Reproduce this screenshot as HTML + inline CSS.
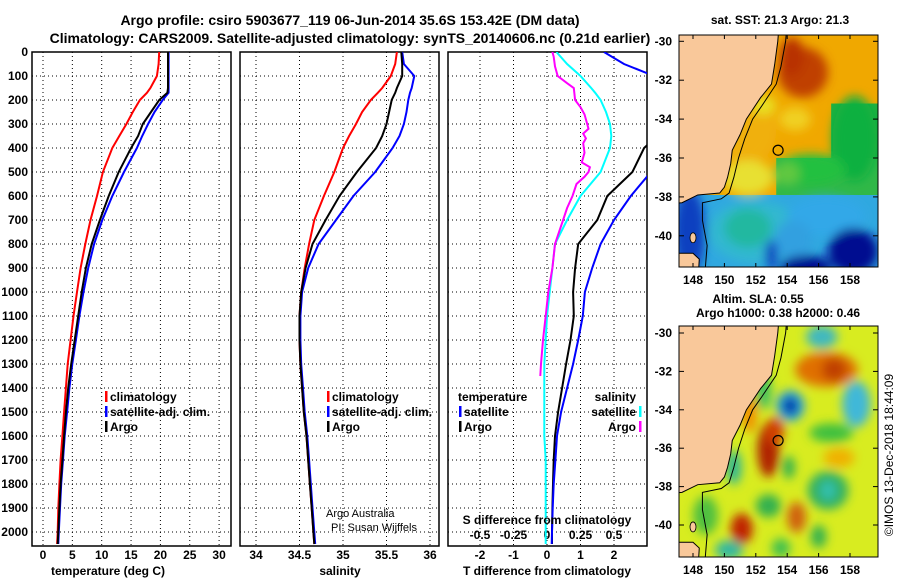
<!DOCTYPE html>
<html><head><meta charset="utf-8"><style>
html,body{margin:0;padding:0;background:#fff;}
svg{display:block;font-family:"Liberation Sans",sans-serif;font-weight:bold;}
text{font-size:12px;fill:#000;}
</style></head><body>
<svg id="root" width="900" height="580" viewBox="0 0 900 580">
<defs>
<clipPath id="c1"><rect x="32" y="52" width="199" height="494"/></clipPath>
<clipPath id="c2"><rect x="240" y="52" width="199" height="494"/></clipPath>
<clipPath id="c3"><rect x="448" y="52" width="199" height="494"/></clipPath>
<clipPath id="cm1"><rect x="679" y="35" width="199" height="232"/></clipPath>
<clipPath id="cm2"><rect x="679" y="326" width="199" height="231"/></clipPath>
<filter id="bl" x="-50%" y="-50%" width="200%" height="200%"><feGaussianBlur stdDeviation="5"/></filter>
</defs>
<text x="350" y="25" text-anchor="middle" style="font-size:14px">Argo profile: csiro 5903677_119 06-Jun-2014 35.6S 153.42E (DM data)</text>
<text x="350" y="43" text-anchor="middle" style="font-size:14px">Climatology: CARS2009. Satellite-adjusted climatology: synTS_20140606.nc (0.21d earlier)</text>
<g id="panels"></g>
<g id="maps"></g>
<text x="108" y="575" text-anchor="middle">temperature (deg C)</text>
<text x="340" y="575" text-anchor="middle">salinity</text>
<text x="547" y="575" text-anchor="middle">T difference from climatology</text>
<text x="547" y="524" text-anchor="middle">S difference from climatology</text>
<text x="326" y="517" style="font-weight:normal;font-size:11px">Argo Australia</text>
<text x="331" y="531" style="font-weight:normal;font-size:11px">PI: Susan Wijffels</text>
<text x="780" y="24" text-anchor="middle">sat. SST: 21.3 Argo: 21.3</text>
<text x="758" y="303" text-anchor="middle">Altim. SLA: 0.55</text>
<text x="778" y="317" text-anchor="middle">Argo h1000: 0.38 h2000: 0.46</text>
<text transform="translate(893,455) rotate(-90)" text-anchor="middle" style="font-weight:normal;font-size:12px">©IMOS 13-Dec-2018 18:44:09</text>
</svg>
<script>
const depths=[0,50,100,150,170,200,250,300,350,400,500,600,700,800,900,1000,1100,1200,1300,1400,1500,1600,1700,1800,1900,2000,2050];
const tempClim=[19.8,19.7,19.4,18.3,17.7,16.5,15.3,14.2,13.0,11.8,10.2,9.2,8.1,7.2,6.4,5.8,5.2,4.7,4.2,3.9,3.6,3.3,3.0,2.8,2.6,2.5,2.4];
const tempSat=[21.4,21.4,21.4,21.4,21.4,20.4,19.0,17.9,16.9,16.0,13.8,11.8,10.1,8.7,7.7,6.9,6.2,5.6,5.0,4.5,4.1,3.7,3.4,3.1,2.9,2.7,2.6];
const tempArgo=[21.3,21.3,21.3,21.3,21.2,19.8,18.4,17.0,16.2,15.0,12.9,11.2,9.7,8.3,7.3,6.6,6.0,5.4,4.8,4.3,3.9,3.6,3.3,3.0,2.8,2.6,2.5];
const salClim=[35.62,35.6,35.55,35.45,35.4,35.32,35.22,35.15,35.07,35.0,34.9,34.78,34.67,34.61,34.56,34.52,34.5,34.5,34.51,34.53,34.55,34.58,34.6,34.62,34.64,34.66,34.67];
const salSat=[35.68,35.7,35.82,35.79,35.77,35.75,35.73,35.7,35.65,35.57,35.37,35.12,34.92,34.72,34.6,34.53,34.51,34.51,34.52,34.54,34.56,34.59,34.61,34.63,34.65,34.67,34.68];
const salArgo=[35.67,35.68,35.68,35.62,35.6,35.56,35.53,35.5,35.45,35.38,35.16,34.96,34.8,34.65,34.57,34.52,34.5,34.5,34.51,34.53,34.55,34.58,34.6,34.62,34.64,34.66,34.67];
const dTSat=[1.7,2.3,3.2,3.5,3.6,3.9,3.7,3.7,3.9,4.2,3.1,2.5,2.0,1.6,1.35,1.13,1.07,0.93,0.78,0.6,0.42,0.3,0.25,0.2,0.17,0.15,0.14];
const dTArgo=[3.5,3.5,3.5,3.5,3.6,3.9,3.6,3.5,3.3,2.9,2.55,1.8,1.5,0.93,0.84,0.78,0.8,0.7,0.57,0.45,0.33,0.24,0.2,0.18,0.16,0.15,0.15];
const dSSat=[0.07,0.15,0.25,0.33,0.36,0.4,0.44,0.47,0.48,0.47,0.4,0.25,0.15,0.06,0.04,0.02,0.0,-0.01,-0.02,-0.02,-0.02,-0.02,-0.01,-0.01,-0.01,-0.01,-0.01];
const depthsSA=[0,20,60,100,130,150,200,230,260,300,320,340,360,380,420,460,480,500,520,550,600,650,700,800,900,1000,1100,1200,1300,1350];
const dSArgo=[0.04,0.05,0.06,0.08,0.15,0.2,0.21,0.25,0.28,0.3,0.31,0.27,0.29,0.27,0.28,0.26,0.32,0.31,0.28,0.22,0.19,0.15,0.12,0.06,0.04,0.01,-0.01,-0.03,-0.045,-0.05];
const depthTicks=[0,100,200,300,400,500,600,700,800,900,1000,1100,1200,1300,1400,1500,1600,1700,1800,1900,2000];
const tempTicks=[0,5,10,15,20,25,30];
const salTicks=[34,34.5,35,35.5,36];
const salTickLabels=["34","34.5","35","35.5","36"];
const dTTicks=[-2,-1,0,1,2];
const dSTicks=[-0.5,-0.25,0,0.25,0.5];
const dSTickLabels=["-0.5","-0.25","0","0.25","0.5"];

const NS="http://www.w3.org/2000/svg";
const yD=d=>52+d*0.24;
const xT=t=>43+t*5.87;
const xS=s=>256+(s-34)*87;
const xDT=v=>547+v*33.5;
const xDS=v=>547+v*134;
function mk(tag,attrs,parent){const e=document.createElementNS(NS,tag);for(const k in attrs)e.setAttribute(k,attrs[k]);parent.appendChild(e);return e;}
const P=document.getElementById('panels');

function panel(x0,ticksX,xf,labels,name){
  const g=mk('g',{},P);
  
  
  ticksX.forEach((t,i)=>{
    const l=mk('line',{x1:xf(t),x2:xf(t),y1:52,y2:546,stroke:'#000','stroke-width':1,'stroke-dasharray':'1,3'},g);
    
    
    const tx=mk('text',{x:xf(t),y:559,'text-anchor':'middle'},g);
    tx.textContent=labels[i];
    
    
  });
  depthTicks.forEach(d=>{
    const l=mk('line',{x1:x0,x2:x0+199,y1:yD(d),y2:yD(d),stroke:'#000','stroke-width':1,'stroke-dasharray':'1,3'},g);
    
    
  });
  const r=mk('rect',{x:x0,y:52,width:199,height:494,fill:'none',stroke:'#000','stroke-width':1.5},g);
  
  
  return g;
}
function series(g,xs,ds,xf,color,clip,name){
  const pts=xs.map((v,i)=>xf(v).toFixed(1)+','+yD(ds[i]).toFixed(1)).join(' ');
  const pl=mk('polyline',{points:pts,fill:'none',stroke:color,'stroke-width':2,'clip-path':'url(#'+clip+')'},g);
  
  
}
function legend(g,x,y,color,label,name,anchor){
  const b=mk('rect',{x:anchor==='end'?x+3:x-5,y:y-10,width:2.5,height:11,fill:color},g);
  
  
  const t=mk('text',{x:x,y:y,'text-anchor':anchor||'start'},g);
  t.textContent=label;
  
  
}
depthTicks.forEach(d=>{
  const t=mk('text',{x:28,y:yD(d)+4,'text-anchor':'end'},P);
  t.textContent=String(d);
  
  
});
const g1=panel(32,tempTicks,xT,tempTicks.map(String),'temperature');
series(g1,tempClim,depths,xT,'#f00','c1','temp-climatology-line');
series(g1,tempSat,depths,xT,'#00f','c1','temp-satellite-line');
series(g1,tempArgo,depths,xT,'#000','c1','temp-argo-line');
legend(g1,110,401,'#f00','climatology','legend-climatology');
legend(g1,110,416,'#00f','satellite-adj. clim.','legend-satellite');
legend(g1,110,431,'#000','Argo','legend-argo');

const g2=panel(240,salTicks,xS,salTickLabels,'salinity');
series(g2,salClim,depths,xS,'#f00','c2','sal-climatology-line');
series(g2,salSat,depths,xS,'#00f','c2','sal-satellite-line');
series(g2,salArgo,depths,xS,'#000','c2','sal-argo-line');
legend(g2,332,401,'#f00','climatology','legend-climatology');
legend(g2,332,416,'#00f','satellite-adj. clim.','legend-satellite');
legend(g2,332,431,'#000','Argo','legend-argo');

const g3=panel(448,dTTicks,xDT,dTTicks.map(String),'difference');
dSTicks.forEach((v,i)=>{
  const t=mk('text',{x:xDS(v),y:539,'text-anchor':'middle'},g3);
  t.textContent=dSTickLabels[i];
  
  
});
series(g3,dTArgo,depths,xDT,'#000','c3','t-diff-argo-line');
series(g3,dTSat,depths,xDT,'#00f','c3','t-diff-satellite-line');
series(g3,dSSat,depths,xDS,'#0ff','c3','s-diff-satellite-line');
series(g3,dSArgo,depthsSA,xDS,'#f0f','c3','s-diff-argo-line');
legend(g3,458,401,'#fff','temperature','legend-temperature-header');
legend(g3,464,416,'#00f','satellite','legend-t-satellite');
legend(g3,464,431,'#000','Argo','legend-t-argo');
legend(g3,636,401,'#fff','salinity','legend-salinity-header','end');
legend(g3,636,416,'#0ff','satellite','legend-s-satellite','end');
legend(g3,636,431,'#f0f','Argo','legend-s-argo','end');

// maps
const M=document.getElementById('maps');
const mX=lon=>693+(lon-148)*15.7;
const lonTicks=[148,150,152,154,156,158];
const latTicks=[-30,-32,-34,-36,-38,-40];
const coast=[[146,-29],[153.5,-29],[153.4,-30],[153.2,-31.2],[153.0,-32.2],[152.3,-32.9],[151.4,-34],[151.0,-34.8],[150.5,-35.6],[150.4,-36.3],[150.2,-37.0],[150.0,-37.5],[149.7,-37.8],[148.3,-37.9],[147.3,-38.3],[146,-38.4]];
const shelf=[[154.0,-29],[153.9,-30],[153.6,-31.3],[153.3,-32.2],[152.4,-33.3],[151.8,-34],[151.3,-35],[150.9,-36],[150.6,-37],[150.3,-37.8],[149.8,-38.1],[148.6,-38.3],[148.6,-39.2],[148.9,-40.5],[148.7,-42.5]];
const tas=[[146,-40.9],[148.0,-40.9],[148.4,-41.2],[148.3,-42.5],[146,-42.5]];
const sstBase='#f0a800';
// underlay regions [lonMin, latTop, lonMax, latBottom, colour]
const sstRegions=[[146,-37.9,160,-43,'#30a8e0'],[156.8,-33.2,160,-37.9,'#20b040'],[153.3,-36.0,160,-37.9,'#30b848']];
const sstBlobs=[[151.5,-34.5,1.8,1.8,'#f0b010'],[155,-31.6,1.6,1.3,'#c04000'],[154.3,-30.8,0.8,1.0,'#b83000'],[152.5,-33.3,0.8,0.5,'#e8e020'],[154.5,-34.0,1.0,0.6,'#f0d020'],[151.5,-37.0,1.6,0.9,'#e8e030'],[158.3,-35.0,1.4,2.2,'#10b040'],[155.5,-36.6,2.2,0.8,'#20c040'],[154.0,-36.8,0.8,0.6,'#60c840'],[152,-39.8,3.0,1.6,'#30b8d0'],[151.5,-39.6,1.5,1.0,'#20b8a0'],[156.5,-39,2.5,1.0,'#30a8e8'],[154.4,-40.2,1.2,1.0,'#30a0e0'],[147.8,-39.8,1.0,2.2,'#1040c0'],[158.2,-40.8,1.6,1.2,'#000890'],[155.2,-41.6,1.6,0.6,'#001090'],[153.0,-41.0,0.4,0.8,'#1040c0']];
const slaBase='#d8ec20';
const slaRegions=[];
const slaBlobs=[[152.8,-36.1,0.7,1.4,'#b02000'],[153.2,-35.1,0.6,0.7,'#d04000'],[151.6,-34.2,0.5,1.0,'#f09000'],[154.2,-33.8,0.9,0.8,'#20a0e0'],[154.2,-33.8,0.45,0.45,'#0020a0'],[156.5,-31.9,2.0,0.9,'#e07000'],[157,-31.9,0.8,0.6,'#c04000'],[151.1,-40.2,0.7,0.8,'#c02000'],[154.6,-39.6,0.6,0.8,'#d06010'],[150.6,-37.0,0.5,0.9,'#30b890'],[156.6,-38.2,1.3,1.0,'#30b060'],[156.6,-38.2,0.5,0.5,'#30c0b0'],[158.4,-33.7,0.9,1.2,'#40b8d8'],[156.2,-30.2,1.0,0.6,'#40b8c0'],[150.3,-41.3,0.9,0.5,'#30b8a0'],[152.8,-39.0,0.8,0.6,'#30b050'],[156.8,-35.2,1.4,0.5,'#40c040'],[152.5,-33.0,0.5,1.0,'#40c060'],[157.3,-36.5,1.0,0.5,'#f0b000'],[154.1,-37.0,0.4,0.6,'#30b050'],[156.0,-40.6,0.5,0.6,'#30b050'],[148.8,-39.5,0.8,1.0,'#50c040'],[153.6,-41.2,0.6,0.5,'#40c050']];

function drawMap(top,h,yLat,base,regions,blobs,clip,name,lonY){
  const g=mk('g',{},M);
  
  
  const inner=mk('g',{'clip-path':'url(#'+clip+')'},g);
  mk('rect',{x:679,y:top,width:199,height:h,fill:base},inner);
  regions.forEach(r=>{
    const e=mk('rect',{x:mX(r[0]),y:yLat(r[1]),width:mX(r[2])-mX(r[0]),height:yLat(r[3])-yLat(r[1]),fill:r[4]},inner);
    
    
  });
  const bg=mk('g',{filter:'url(#bl)'},inner);
  blobs.forEach(b=>{
    const e=mk('ellipse',{cx:mX(b[0]),cy:yLat(b[1]),rx:b[2]*15.7,ry:b[3]*19.3,fill:b[4]},bg);
    
    
  });
  const land=mk('polygon',{points:coast.map(p=>mX(p[0])+','+yLat(p[1])).join(' '),fill:'#f9c89a',stroke:'#000','stroke-width':1},inner);
  
  
  const t2=mk('polygon',{points:tas.map(p=>mX(p[0])+','+yLat(p[1])).join(' '),fill:'#f9c89a',stroke:'#000'},inner);
  
  
  const isl=mk('ellipse',{cx:mX(148.0),cy:yLat(-40.1),rx:3,ry:5,fill:'#f9c89a',stroke:'#000','stroke-width':0.8},inner);
  
  
  const sh=mk('polyline',{points:shelf.map(p=>mX(p[0])+','+yLat(p[1])).join(' '),fill:'none',stroke:'#000','stroke-width':1},inner);
  
  
  const c=mk('circle',{cx:mX(153.42),cy:yLat(-35.6),r:5,fill:'none',stroke:'#000','stroke-width':1.2},g);
  
  
  const fr=mk('rect',{x:679,y:top,width:199,height:h,fill:'none',stroke:'#000','stroke-width':1},g);
  
  
  latTicks.forEach(l=>{
    const t=mk('text',{x:672,y:yLat(l)+4,'text-anchor':'end'},g);
    t.textContent=String(l);
    
    
    mk('line',{x1:679,x2:684,y1:yLat(l),y2:yLat(l),stroke:'#000'},g);
    mk('line',{x1:873,x2:878,y1:yLat(l),y2:yLat(l),stroke:'#000'},g);
  });
  lonTicks.forEach(l=>{
    mk('line',{x1:mX(l),x2:mX(l),y1:top,y2:top+4,stroke:'#000'},g);
    mk('line',{x1:mX(l),x2:mX(l),y1:top+h-4,y2:top+h,stroke:'#000'},g);
    const t=mk('text',{x:mX(l),y:lonY,'text-anchor':'middle'},g);
    t.textContent=String(l);
    
    
  });
}
drawMap(35,232,lat=>41.3+(-30-lat)*19.45,sstBase,sstRegions,sstBlobs,'cm1','sst-map',284);
drawMap(326,231,lat=>333+(-30-lat)*19.2,slaBase,slaRegions,slaBlobs,'cm2','sla-map',574);
</script>
</body></html>
